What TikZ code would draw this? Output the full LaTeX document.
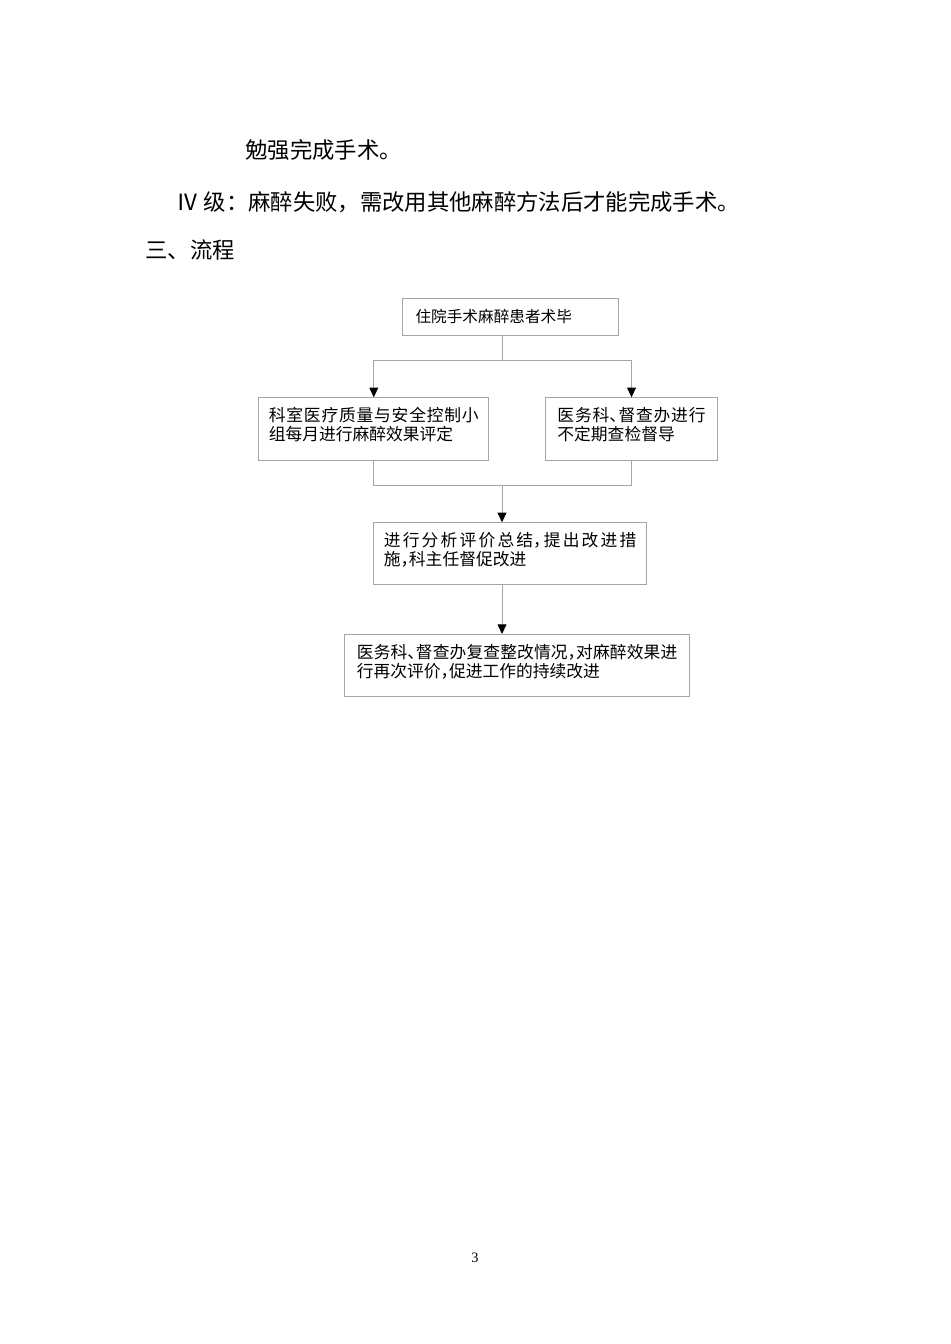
\documentclass[tikz,border=0pt]{standalone}
\usepackage{fontspec}
\setmainfont{Liberation Serif}
\newfontfamily\cjk{Noto Sans CJK SC}
\newfontfamily\cjkbox[RawFeature={+halt}]{Noto Sans CJK SC}
\usetikzlibrary{arrows.meta}
\XeTeXlinebreaklocale "zh"
\XeTeXlinebreakskip=0pt plus 2pt minus 0.4pt
\definecolor{framegray}{RGB}{165,165,165}
\tikzset{
  flowbox/.style={draw=framegray, line width=0.6pt, anchor=north west, align=justify,
    inner ysep=0pt, text height=15pt, font=\cjkbox\fontsize{10.5pt}{11.9pt}\selectfont},
  link/.style={draw=framegray, line width=0.6pt},
  arrow/.style={link, -{Triangle[black, width=5.5pt, length=6pt]}},
  bodytext/.style={anchor=base west, inner sep=0pt, font=\cjk\fontsize{14pt}{16pt}\selectfont}
}
\begin{document}
\begin{tikzpicture}[x=0.6265pt, y=-0.6265pt]
\useasboundingbox (0,0) rectangle (950,1344);

% Text above the chart
\node[bodytext] (cont) at (245,158.3) {勉强完成手术。};
\node[bodytext] (level4) at (176,210.3) {Ⅳ 级：麻醉失败，需改用其他麻醉方法后才能完成手术。};
\node[bodytext] (heading) at (145,258.3) {三、流程};

% Boxes
\node[flowbox, align=left, inner xsep=8pt, text width=118.9pt, text depth=8pt,
  font=\cjkbox\fontsize{9.8pt}{11.9pt}\selectfont] (start) at (402.3,298.3) {住院手术麻醉患者术毕};
\node[flowbox, inner xsep=6.3pt, text width=131.5pt, text depth=24.4pt] (review) at (258.3,397.3) {科室医疗质量与安全控制小\linebreak 组每月进行麻醉效果评定};
\node[flowbox, inner xsep=7.5pt, text width=92.8pt, text depth=24.4pt] (inspect) at (545,397.3) {医务科、督查办进行\linebreak 不定期查检督导};
\node[flowbox, inner xsep=6.3pt, text width=158.2pt, text depth=23.8pt] (summary) at (373.3,522.3) {进行分析评价总结，提出改进措\linebreak 施，科主任督促改进};
\node[flowbox, inner xsep=7.8pt, text width=200.7pt, text depth=23.8pt] (recheck) at (344,634) {医务科、督查办复查整改情况，对麻醉效果进\linebreak 行再次评价，促进工作的持续改进};

% Connectors
\coordinate (split) at (502,360);
\coordinate (merge) at (502,485);
\draw[link] (start.south -| split) -- (split);
\draw[arrow] (split) -| (review.north);
\draw[arrow] (split) -| (inspect.north);
\draw[link] (review.south) |- (merge);
\draw[link] (inspect.south) |- (merge);
\draw[arrow] (merge) -- (merge |- summary.north);
\draw[arrow] (summary.south -| merge) -- (recheck.north -| merge);

% Page number
\node[anchor=base, inner sep=0pt, font=\fontsize{9pt}{10pt}\selectfont] (pagenum) at (475,1262) {3};
\end{tikzpicture}
\end{document}
